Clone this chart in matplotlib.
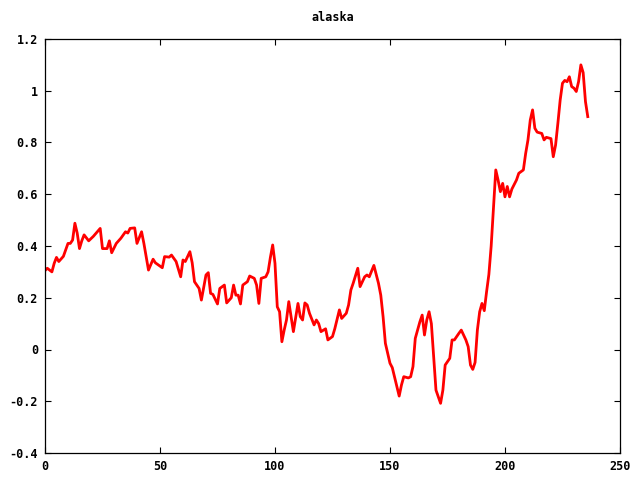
import matplotlib
matplotlib.use('Agg')
import matplotlib.pyplot as plt

# values
xs = [0, 1, 3, 4, 5, 6, 8, 9, 10, 11, 12, 13, 14, 15, 16, 17, 19, 21, 24, 25,
      27, 28, 29, 31, 33, 35, 36, 37, 39, 40, 42, 43, 45, 47, 48, 51, 52, 54,
      55, 57, 59, 60, 61, 63, 64, 65, 67, 68, 70, 71, 72, 73, 75, 76, 78, 79,
      81, 82, 83, 84, 85, 86, 88, 89, 91, 92, 93, 94, 96, 97, 98, 99, 100, 101,
      102, 103, 104, 105, 106, 107, 108, 110, 111, 112, 113, 114, 115, 117,
      118, 119, 120, 122, 123, 125, 126, 128, 129, 131, 132, 133, 134, 136,
      137, 139, 140, 141, 143, 145, 146, 147, 148, 150, 151, 153, 154, 155,
      156, 158, 159, 160, 161, 163, 164, 165, 166, 167, 168, 169, 170, 172,
      173, 174, 176, 177, 178, 180, 181, 183, 184, 185, 186, 187, 188, 189,
      190, 191, 192, 193, 194, 195, 196, 197, 198, 199, 200, 201, 202, 203,
      205, 206, 208, 209, 210, 211, 212, 213, 214, 216, 217, 218, 220, 221,
      222, 223, 224, 225, 226, 227, 228, 229, 230, 231, 232, 233, 234, 235, 236]
ys = [0.305, 0.314, 0.30, 0.333, 0.356, 0.34, 0.36, 0.385, 0.41, 0.41, 0.423,
      0.488, 0.45, 0.39, 0.42, 0.443, 0.42, 0.437, 0.468, 0.39, 0.39, 0.42,
      0.374, 0.41, 0.43, 0.455, 0.45, 0.468, 0.47, 0.41, 0.455, 0.41, 0.307,
      0.349, 0.335, 0.316, 0.359, 0.357, 0.365, 0.34, 0.281, 0.346, 0.34,
      0.378, 0.335, 0.262, 0.236, 0.191, 0.288, 0.297, 0.217, 0.213, 0.176,
      0.236, 0.249, 0.18, 0.2, 0.249, 0.21, 0.21, 0.176, 0.249, 0.262, 0.284,
      0.275, 0.249, 0.178, 0.275, 0.281, 0.30, 0.356, 0.404, 0.333, 0.165,
      0.146, 0.03, 0.075, 0.114, 0.185, 0.127, 0.069, 0.178, 0.127, 0.114,
      0.18, 0.172, 0.14, 0.095, 0.114, 0.1, 0.069, 0.08, 0.037, 0.05, 0.08,
      0.153, 0.12, 0.14, 0.172, 0.23, 0.256, 0.314, 0.243, 0.281, 0.288,
      0.281, 0.325, 0.256, 0.21, 0.127, 0.024, -0.053, -0.07, -0.144, -0.18,
      -0.137, -0.105, -0.11, -0.105, -0.066, 0.043, 0.107, 0.133, 0.056,
      0.114, 0.146, 0.1, -0.028, -0.157, -0.208, -0.157, -0.06, -0.034, 0.037,
      0.037, 0.063, 0.075, 0.037, 0.011, -0.06, -0.077, -0.05, 0.075, 0.146,
      0.178, 0.15, 0.223, 0.29, 0.4, 0.55, 0.694, 0.655, 0.61, 0.642, 0.59,
      0.63, 0.59, 0.62, 0.655, 0.681, 0.694, 0.758, 0.81, 0.887, 0.926, 0.855,
      0.84, 0.835, 0.81, 0.82, 0.815, 0.745, 0.79, 0.874, 0.964, 1.029, 1.04,
      1.035, 1.054, 1.016, 1.01, 0.997, 1.035, 1.1, 1.07, 0.958, 0.9]

xticks = [0, 50, 100, 150, 200, 250]
yticks = [-0.4, -0.2, 0, 0.2, 0.4, 0.6, 0.8, 1, 1.2]
ylabels = ['-0.4', '-0.2', '0', '0.2', '0.4', '0.6', '0.8', '1', '1.2']

plt.rcParams['font.family'] = 'DejaVu Sans Mono'
fig = plt.figure(figsize=(6.4, 4.8), dpi=100)
ax = fig.add_axes([0.0703, 0.05625, 0.8984, 0.8625])
ax.plot(xs, ys, color='#ff0000', linewidth=2.0)
ax.set_xlim(0, 250)
ax.set_ylim(-0.4, 1.2)
ax.set_xticks(xticks)
ax.set_yticks(yticks)
ax.set_yticklabels(ylabels)
ax.tick_params(direction='in', length=4.5, width=0.8, top=True, right=True,
               labelsize=8.5, pad=5)
for lab in ax.get_xticklabels() + ax.get_yticklabels():
    lab.set_fontweight('bold')
for s in ax.spines.values():
    s.set_linewidth(0.9)
ax.set_title('alaska', fontsize=8.5, fontweight='bold', pad=13)
fig.savefig('out.png', dpi=100)
